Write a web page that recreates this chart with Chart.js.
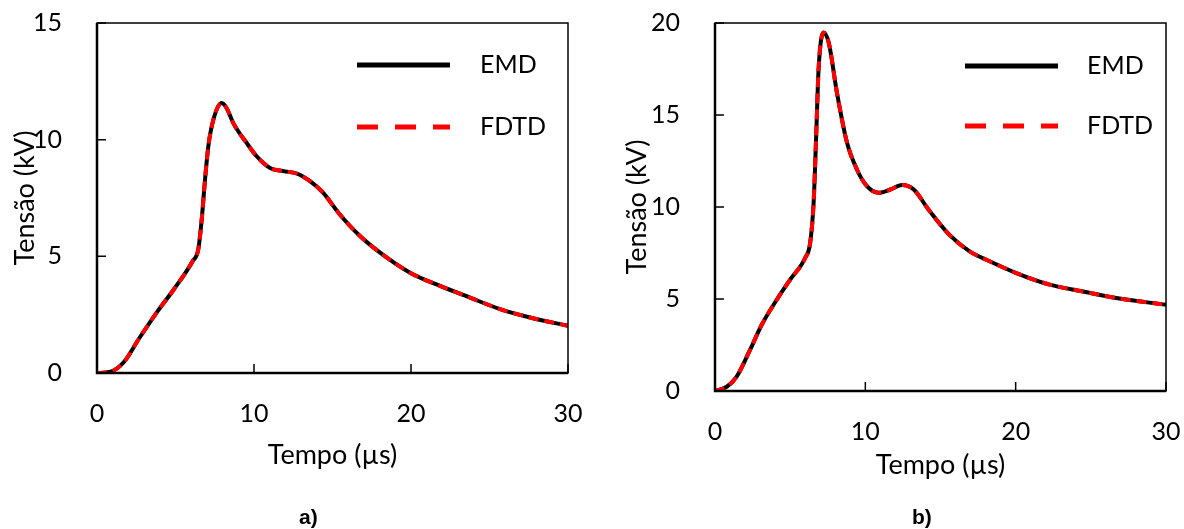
<!DOCTYPE html>
<html>
<head>
<meta charset="utf-8">
<script src="https://cdn.jsdelivr.net/npm/chart.js@4.4.1/dist/chart.umd.min.js"></script>
<style>
  html, body { margin: 0; padding: 0; background: #fff; }
  body { width: 1184px; height: 529px; position: relative; overflow: hidden; }
  .box { position: absolute; top: 0; height: 529px; }
  .tag { position: absolute; top: 505px; font: bold 21px "Liberation Sans", Arial, sans-serif; color: #000; }
</style>
</head>
<body>
<div class="box" id="boxA" style="left:0; width:600px;"><canvas id="chartA"></canvas></div>
<div class="box" id="boxB" style="left:612px; width:572px;"><canvas id="chartB"></canvas></div>
<div class="tag" style="left:299px;">a)</div>
<div class="tag" style="left:912px;">b)</div>

<script>
// --- data (time in µs, voltage in kV) ---
const timeA = [0, 0.8, 1.7, 2.7, 3.8, 4.9, 6.1, 6.45, 6.67, 6.88, 7.09, 7.41, 7.94, 8.26, 8.68, 9.53, 10.17, 11.02, 11.87, 12.72, 13.57, 14.41, 15.4, 16.75, 18.03, 19.94, 21.85, 23.76, 25.67, 27.58, 30];
const emdA  = [0, 0.04, 0.46, 1.5, 2.59, 3.59, 4.8, 5.3, 6.58, 8.29, 9.71, 10.85, 11.57, 11.35, 10.71, 9.86, 9.29, 8.79, 8.65, 8.55, 8.22, 7.72, 6.85, 5.87, 5.16, 4.3, 3.73, 3.23, 2.74, 2.38, 2.02];
const fdtdA = [0, 0.04, 0.46, 1.5, 2.59, 3.59, 4.8, 5.3, 6.58, 8.29, 9.71, 10.85, 11.57, 11.35, 10.71, 9.86, 9.29, 8.79, 8.65, 8.55, 8.22, 7.72, 6.85, 5.87, 5.16, 4.3, 3.73, 3.23, 2.74, 2.38, 2.02];

const timeB = [0, 0.78, 1.44, 2.33, 3.11, 4.11, 5.0, 6.0, 6.33, 6.56, 6.73, 6.89, 7.22, 7.56, 8.11, 8.78, 9.44, 10.11, 10.89, 11.67, 12.44, 13.22, 14.2, 15.58, 16.94, 18.27, 20.04, 22.26, 24.47, 26.69, 30];
const emdB  = [0, 0.23, 0.78, 2.23, 3.6, 4.96, 6.05, 7.23, 8.05, 10.23, 13.86, 17.49, 19.49, 18.95, 16.22, 13.5, 12.04, 11.13, 10.77, 10.95, 11.19, 10.95, 9.86, 8.5, 7.59, 7.05, 6.41, 5.78, 5.41, 5.05, 4.69];
const fdtdB = [0, 0.23, 0.78, 2.23, 3.6, 4.96, 6.05, 7.23, 8.05, 10.23, 13.86, 17.49, 19.49, 18.95, 16.22, 13.5, 12.04, 11.13, 10.77, 10.95, 11.19, 10.95, 9.86, 8.5, 7.59, 7.05, 6.41, 5.78, 5.41, 5.05, 4.69];

const seriesNames = ['EMD', 'FDTD'];
const xTitle = 'Tempo (µs)';
const yTitle = 'Tensão (kV)';

const FONT = 'Lato, "Open Sans", sans-serif';
const FONT_SIZE = 25;
const TITLE_SIZE = 27;

function toPoints(xs, ys) {
    return xs.map((x, i) => ({ x: x, y: ys[i] }));
}

// frame, inner tick marks and the legend drawn on top of the plot
const framePlugin = {
    id: 'frame',
    afterDraw(chart, args, opts) {
        const { ctx, chartArea: a, scales } = chart;
        ctx.save();
        ctx.strokeStyle = '#000';

        // inner ticks
        ctx.lineWidth = 1.5;
        ctx.beginPath();
        scales.x.ticks.forEach(t => {
            const px = scales.x.getPixelForValue(t.value);
            ctx.moveTo(px, a.bottom);
            ctx.lineTo(px, a.bottom - 9);
        });
        scales.y.ticks.forEach(t => {
            const py = scales.y.getPixelForValue(t.value);
            ctx.moveTo(a.left, py);
            ctx.lineTo(a.left + 9, py);
        });
        ctx.stroke();

        // box: left and bottom a bit heavier, like the original
        ctx.lineWidth = 1.5;
        ctx.strokeRect(a.left, a.top, a.right - a.left, a.bottom - a.top);
        ctx.lineWidth = 2.5;
        ctx.beginPath();
        ctx.moveTo(a.left, a.top);
        ctx.lineTo(a.left, a.bottom);
        ctx.lineTo(a.right, a.bottom);
        ctx.stroke();

        // legend
        const lg = opts.legend;
        ctx.lineWidth = 5;
        ctx.strokeStyle = '#000';
        ctx.beginPath();
        ctx.moveTo(lg.x0, lg.y1);
        ctx.lineTo(lg.x1, lg.y1);
        ctx.stroke();
        ctx.strokeStyle = '#ff0000';
        ctx.setLineDash([21, 17]);
        ctx.beginPath();
        ctx.moveTo(lg.x0, lg.y2);
        ctx.lineTo(lg.x1, lg.y2);
        ctx.stroke();
        ctx.setLineDash([]);
        ctx.fillStyle = '#000';
        ctx.font = FONT_SIZE + 'px ' + FONT;
        ctx.textBaseline = 'middle';
        ctx.fillText(seriesNames[0], lg.tx, lg.y1);
        ctx.fillText(seriesNames[1], lg.tx, lg.y2);
        ctx.restore();
    }
};

// keep tick-label overhang from pushing the plot area in
function noOverhang(s) {
    s.paddingTop = 0;
    s.paddingBottom = 0;
    s.paddingLeft = 0;
    s.paddingRight = 0;
}

function makeChart(id, time, emd, fdtd, cfg) {
    const ctx = document.getElementById(id).getContext('2d');
    return new Chart(ctx, {
        type: 'line',
        data: {
            datasets: [
                {
                    label: seriesNames[1],
                    data: toPoints(time, fdtd),
                    borderColor: '#ff0000',
                    borderWidth: 4,
                    borderDash: [10, 6],
                    pointRadius: 0,
                    cubicInterpolationMode: 'monotone',
                    order: 0
                },
                {
                    label: seriesNames[0],
                    data: toPoints(time, emd),
                    borderColor: '#000000',
                    borderWidth: 4,
                    pointRadius: 0,
                    cubicInterpolationMode: 'monotone',
                    order: 1
                }
            ]
        },
        options: {
            responsive: true,
            maintainAspectRatio: false,
            animation: false,
            layout: { padding: cfg.padding },
            plugins: {
                legend: { display: false },
                tooltip: { enabled: false },
                frame: { legend: cfg.legend }
            },
            scales: {
                x: {
                    type: 'linear',
                    min: 0, max: 30,
                    ticks: { stepSize: 10, padding: 18, maxRotation: 0, color: '#000', font: { family: FONT, size: FONT_SIZE } },
                    grid: { display: false },
                    border: { display: false },
                    title: { display: true, text: xTitle, color: '#000', padding: 0, font: { family: FONT, size: TITLE_SIZE } },
                    afterFit: s => { s.height = cfg.xHeight; noOverhang(s); }
                },
                y: {
                    min: 0, max: cfg.yMax,
                    ticks: { stepSize: 5, padding: 27, color: '#000', font: { family: FONT, size: FONT_SIZE } },
                    grid: { display: false },
                    border: { display: false },
                    title: { display: true, text: yTitle, color: '#000', padding: { top: cfg.yTitlePad, bottom: 0 }, font: { family: FONT, size: TITLE_SIZE } },
                    afterFit: s => { s.width = cfg.yWidth; noOverhang(s); }
                }
            }
        },
        plugins: [framePlugin]
    });
}

makeChart('chartA', timeA, emdA, fdtdA, {
    yMax: 15,
    padding: { left: 0, top: 23, right: 32, bottom: 529 - 373 - 98 },
    xHeight: 98,
    yWidth: 97,
    yTitlePad: 9,
    legend: { x0: 357, x1: 450, y1: 65, y2: 127, tx: 480 }
});

makeChart('chartB', timeB, emdB, fdtdB, {
    yMax: 20,
    padding: { left: 0, top: 23, right: 18, bottom: 529 - 391 - 90 },
    xHeight: 90,
    yWidth: 103,
    yTitlePad: 9,
    legend: { x0: 353, x1: 446, y1: 66, y2: 126, tx: 475 }
});
</script>
</body>
</html>
